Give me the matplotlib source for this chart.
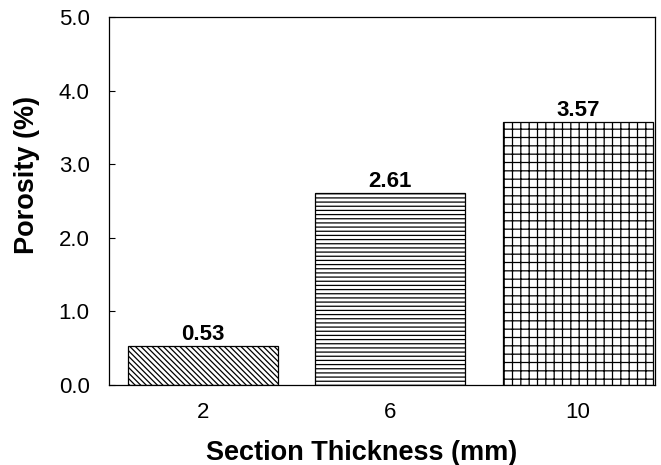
import matplotlib
matplotlib.use("Agg")
import matplotlib.pyplot as plt

# data
thickness = ["2", "6", "10"]
porosity = [0.53, 2.61, 3.57]
hatches = ["\\" * 6, "----", "++"]

plt.rcParams['font.family'] = ['Liberation Sans', 'DejaVu Sans']
plt.rcParams['hatch.linewidth'] = 0.9


def main():
    fig = plt.figure(figsize=(6.61, 4.65), dpi=100)
    ax = fig.add_axes([0.1649, 0.172, 0.826, 0.7914])

    xs = range(len(thickness))
    bars = ax.bar(xs, porosity, width=0.8, color="white", edgecolor="black",
                  linewidth=0.9, hatch=hatches)
    for b, v in zip(bars, porosity):
        ax.annotate(f"{v:.2f}", (b.get_x() + b.get_width() / 2, v),
                    xytext=(0, 1), textcoords="offset points",
                    ha="center", va="bottom", fontsize=16, fontweight="bold")

    ax.set_xlim(-0.5, 2.41)
    ax.set_ylim(0, 5)
    ax.set_xticks(list(xs))
    ax.set_xticklabels(thickness)
    ax.set_yticks([0, 1, 2, 3, 4, 5])
    ax.set_yticklabels([f"{t:.1f}" for t in range(6)])
    ax.tick_params(axis="x", length=0, labelsize=16, pad=12)
    ax.tick_params(axis="y", direction="in", length=4.5, width=0.8, labelsize=16, pad=14)
    for s in ax.spines.values():
        s.set_linewidth(0.9)

    ax.set_xlabel("Section Thickness (mm)", fontsize=19.5, fontweight="bold")
    ax.set_ylabel("Porosity (%)", fontsize=19.5, fontweight="bold")
    # labels in the reference sit a bit off the axes centre
    ax.xaxis.set_label_coords(0.463, -0.150)
    ax.yaxis.set_label_coords(-0.126, 0.571)

    fig.savefig("out.png", dpi=100)


if __name__ == "__main__":
    main()
